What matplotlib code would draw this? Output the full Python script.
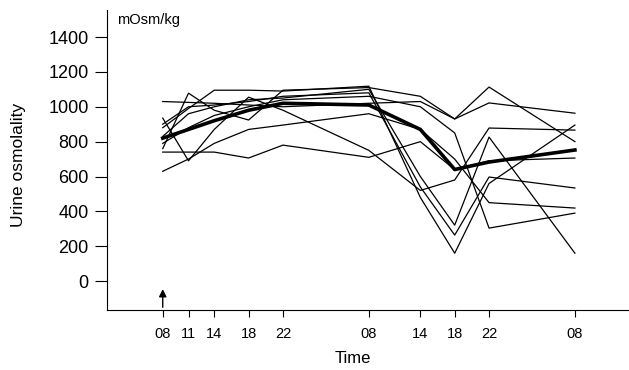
import numpy as np
import matplotlib
matplotlib.use("Agg")
from matplotlib import pyplot as plt

plt.rcParams['font.family'] = ['Liberation Sans', 'DejaVu Sans']

# horas desde las 08 del primer dia
horas = [0, 3, 6, 10, 14, 24, 30, 34, 38, 48]
etiquetas_x = ["08", "11", "14", "18", "22", "08", "14", "18", "22", "08"]
ticks_y = [0, 200, 400, 600, 800, 1000, 1200, 1400]

# pacientes individuales (mOsm/kg)
p1 = [1030, 1025, 1020, 1010, 1000, 1020, 1030, 930, 1113, 800]
p2 = [760, 1078, 980, 924, 1095, 1110, 1060, 930, 1022, 963]
p3 = [935, 690, 870, 1055, 980, 750, 520, 580, 878, 866]
p4 = [880, 990, 1095, 1095, 1090, 1118, 480, 160, 560, 895]
p5 = [740, 740, 740, 706, 780, 710, 800, 640, 690, 706]
p6 = [630, 700, 790, 870, 895, 960, 870, 700, 450, 419]
p7 = [790, 880, 950, 1000, 1040, 1060, 1000, 850, 304, 390]
p8 = [830, 960, 1000, 1040, 1050, 1100, 600, 321, 826, 160]
p9 = [900, 1000, 1010, 1030, 1060, 1080, 540, 264, 597, 534]
pacientes = [p1, p2, p3, p4, p5, p6, p7, p8, p9]

# media (linea gruesa)
media = [820, 870, 920, 980, 1020, 1010, 870, 640, 683, 752]

fig = plt.figure(figsize=(6.29, 3.70), dpi=100)
ax = fig.add_axes([0.170, 0.162, 0.830, 0.811])

for p in pacientes:
    ax.plot(horas, p, color='k', lw=0.9)
ax.plot(horas, media, color='k', lw=2.6)

ax.set_xlim(-6.5, 54.3)
ax.set_ylim(-166, 1555)

ax.spines['top'].set_visible(False)
ax.spines['right'].set_visible(False)

ax.set_yticks(ticks_y)
ax.set_yticklabels([str(t) for t in ticks_y], fontsize=13)
ax.tick_params(axis='y', direction='out', length=9, width=0.8, pad=4)

ax.set_xticks(horas)
ax.set_xticklabels(etiquetas_x, fontsize=10.5)
ax.tick_params(axis='x', direction='out', length=5, width=0.8, pad=7)

# flecha al inicio
ax.annotate('', xy=(0, -30), xytext=(0, -166),
            arrowprops=dict(arrowstyle='-|>', color='k', lw=1, mutation_scale=11))

fig.text(0.186, 0.946, "mOsm/kg", fontsize=10.5, va='center', ha='left')
fig.text(0.029, 0.554, "Urine osmolality", fontsize=12.5, rotation=90,
         va='center', ha='center')
fig.text(0.561, 0.030, "Time", fontsize=12, va='center', ha='center')

fig.savefig("out.png", dpi=100)
